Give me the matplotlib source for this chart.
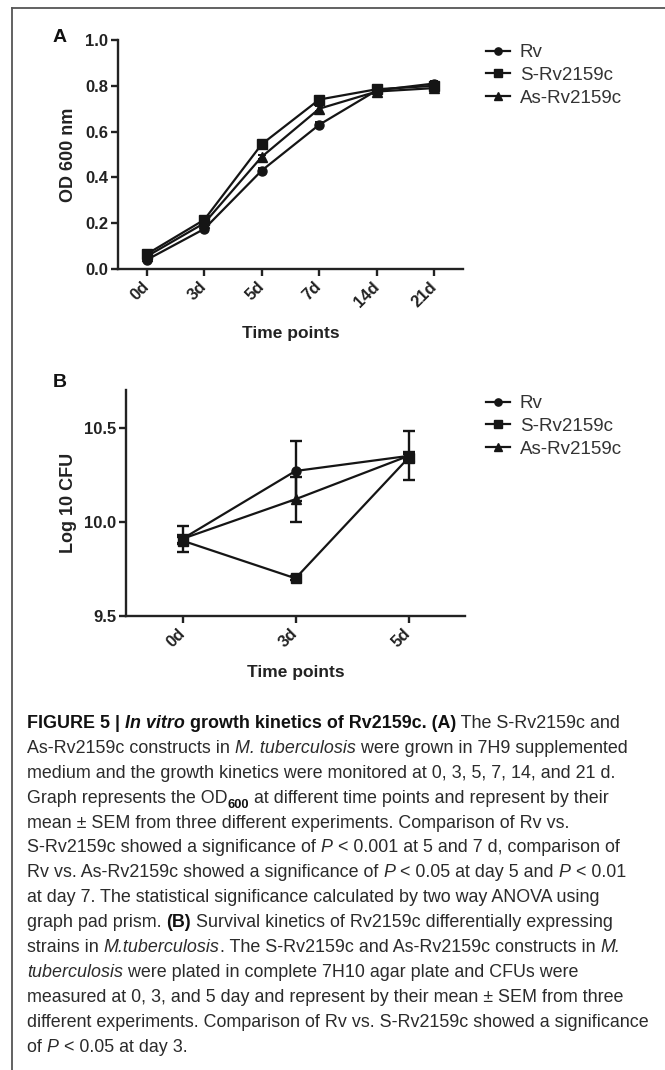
import matplotlib
matplotlib.use("Agg")
import matplotlib.pyplot as plt
from matplotlib import font_manager
from matplotlib.lines import Line2D

W, H = 665, 1070

# panel A: OD600 growth curve
days_a = ["0d", "3d", "5d", "7d", "14d", "21d"]
rv_a = [0.040, 0.175, 0.430, 0.630, 0.780, 0.810]
s_a = [0.065, 0.215, 0.545, 0.740, 0.785, 0.800]
as_a = [0.055, 0.200, 0.490, 0.700, 0.775, 0.790]
err_a = [0.005, 0.008, 0.010, 0.010, 0.015, 0.012]

# panel B: log10 CFU
days_b = ["0d", "3d", "5d"]
rv_b = [9.91, 10.27, 10.35]
s_b = [9.90, 9.70, 10.34]
as_b = [9.91, 10.12, 10.35]
rv_b_err = [0.07, 0.16, 0.13]
s_b_err = [0.02, 0.01, 0.02]
as_b_err = [0.02, 0.12, 0.02]

series_names = ["Rv", "S-Rv2159c", "As-Rv2159c"]
markers = [("o", 6.5), ("s", 6.5), ("^", 7.0)]

names = {f.name for f in font_manager.fontManager.ttflist}
cap_font = "Liberation Sans Narrow" if "Liberation Sans Narrow" in names else "Liberation Sans"
plt.rcParams['font.family'] = ['Liberation Sans', 'DejaVu Sans']

fig = plt.figure(figsize=(W / 100, H / 100), dpi=100)


def fx(px):
    return px / W


def fy(py):
    return 1 - py / H


def box(left, top, right, bottom):
    return [fx(left), fy(bottom), fx(right) - fx(left), fy(top) - fy(bottom)]


def style_axes(ax, labels, yticks, ylabel, ylab_x, xlab_y):
    for s in ['top', 'right']:
        ax.spines[s].set_visible(False)
    for s in ['left', 'bottom']:
        ax.spines[s].set_linewidth(1.7)
        ax.spines[s].set_color('#222222')
    ax.tick_params(width=1.7, length=5, color='#222222', labelsize=12, labelcolor='#222222', pad=2)
    ax.tick_params(axis='x', pad=6)
    ax.set_xticks(range(len(labels)))
    ax.set_xticklabels(labels, rotation=45, ha='right', va='center', rotation_mode='anchor', fontweight='bold')
    ax.set_yticks(yticks, labels=["%.1f" % v for v in yticks], fontweight='bold')
    ax.set_xlim(-0.5, len(labels) - 0.5)
    ax.set_xlabel("Time points", fontweight='bold', fontsize=12.5, color='#222222')
    ax.set_ylabel(ylabel, fontweight='bold', fontsize=13, color='#222222')
    ax.xaxis.set_label_coords(0.5, xlab_y)
    ax.yaxis.set_label_coords(ylab_x, 0.5)


def add_legend(ax, handles, top):
    leg = ax.legend(handles, series_names, loc='upper left', bbox_to_anchor=(fx(486), fy(top)),
                    bbox_transform=fig.transFigure, frameon=False, fontsize=13.5,
                    handlelength=1.3, handletextpad=0.5, labelspacing=0.3,
                    borderaxespad=0, borderpad=0, markerscale=0.8)
    for t in leg.get_texts():
        t.set_color('#333333')
        t.set_family(cap_font)


# ---- panel A ----
ax1 = fig.add_axes(box(118, 40, 463, 269))
xa = range(len(days_a))
handles = []
for vals, (m, ms) in zip([rv_a, s_a, as_a], markers):
    ln, = ax1.plot(xa, vals, marker=m, markersize=ms, color='#151515', lw=1.6)
    ax1.errorbar(xa, vals, yerr=err_a, fmt='none', ecolor='#151515', elinewidth=1.4, capsize=3, capthick=1.4)
    handles.append(ln)
ax1.set_ylim(0, 1.0)
style_axes(ax1, days_a, [0.0, 0.2, 0.4, 0.6, 0.8, 1.0], "OD 600 nm", -0.12, -0.25)
add_legend(ax1, handles, 44)

# ---- panel B ----
ax2 = fig.add_axes(box(126, 390, 465, 616))
xb = range(len(days_b))
handles = []
for vals, errs, (m, ms) in zip([rv_b, s_b, as_b], [rv_b_err, s_b_err, as_b_err], markers):
    ln, = ax2.plot(xb, vals, marker=m, markersize=ms, color='#151515', lw=1.6)
    ax2.errorbar(xb, vals, yerr=errs, fmt='none', ecolor='#151515', elinewidth=1.7, capsize=4, capthick=1.7)
    handles.append(ln)
ax2.set_ylim(9.5, 10.7)
style_axes(ax2, days_b, [9.5, 10.0, 10.5], "Log 10 CFU", -0.145, -0.215)
add_legend(ax2, handles, 395)

fig.text(fx(53), fy(37), "A", fontweight='bold', fontsize=14, va='center', color='#111111')
fig.text(fx(53), fy(382), "B", fontweight='bold', fontsize=14, va='center', color='#111111')

# frame around the figure panel
fig.add_artist(Line2D([fx(12), fx(12)], [fy(8), 0], color='#555555', lw=1.3))
fig.add_artist(Line2D([fx(12), 1], [fy(8), fy(8)], color='#555555', lw=1.3))

# ---- caption ----
caption = [
    [("FIGURE 5 | ", "b"), ("In vitro", "bi"), (" growth kinetics of Rv2159c. (A)", "b"), (" The S-Rv2159c and", "n")],
    [("As-Rv2159c constructs in ", "n"), ("M. tuberculosis", "i"), (" were grown in 7H9 supplemented", "n")],
    [("medium and the growth kinetics were monitored at 0, 3, 5, 7, 14, and 21 d.", "n")],
    [("Graph represents the OD", "n"), ("600", "sub"), (" at different time points and represent by their", "n")],
    [("mean \u00b1 SEM from three different experiments. Comparison of Rv vs.", "n")],
    [("S-Rv2159c showed a significance of ", "n"), ("P", "i"), (" < 0.001 at 5 and 7 d, comparison of", "n")],
    [("Rv vs. As-Rv2159c showed a significance of ", "n"), ("P", "i"), (" < 0.05 at day 5 and ", "n"), ("P", "i"), (" < 0.01", "n")],
    [("at day 7. The statistical significance calculated by two way ANOVA using", "n")],
    [("graph pad prism. ", "n"), ("(B)", "b"), (" Survival kinetics of Rv2159c differentially expressing", "n")],
    [("strains in ", "n"), ("M.tuberculosis", "i"), (". The S-Rv2159c and As-Rv2159c constructs in ", "n"), ("M.", "i")],
    [("tuberculosis", "i"), (" were plated in complete 7H10 agar plate and CFUs were", "n")],
    [("measured at 0, 3, and 5 day and represent by their mean \u00b1 SEM from three", "n")],
    [("different experiments. Comparison of Rv vs. S-Rv2159c showed a significance", "n")],
    [("of ", "n"), ("P", "i"), (" < 0.05 at day 3.", "n")],
]

renderer = fig.canvas.get_renderer()


def draw_line(segs, x0, y0, size):
    x = x0
    for txt, st in segs:
        kw = dict(fontsize=size, family=cap_font, color='#2b2b2b', va='baseline', ha='left')
        yy = y0
        if 'b' in st:
            kw['fontweight'] = 'bold'
            kw['color'] = '#111111'
        if 'i' in st:
            kw['fontstyle'] = 'italic'
        if st == 'sub':
            kw['fontsize'] = size * 0.72
            yy = y0 + 5
        t = fig.text(fx(x), fy(yy), txt, **kw)
        x += t.get_window_extent(renderer).width
    return x


# pick a size so the widest line ends near the right edge
probe = fig.text(0, 0, caption[12][0][0], fontsize=12, family=cap_font)
w12 = probe.get_window_extent(renderer).width
probe.remove()
cap_size = 12 * (650 - 27) / w12

for i, segs in enumerate(caption):
    draw_line(segs, 27, 728 + 24.9 * i, cap_size)

fig.savefig("out.png", dpi=100)
